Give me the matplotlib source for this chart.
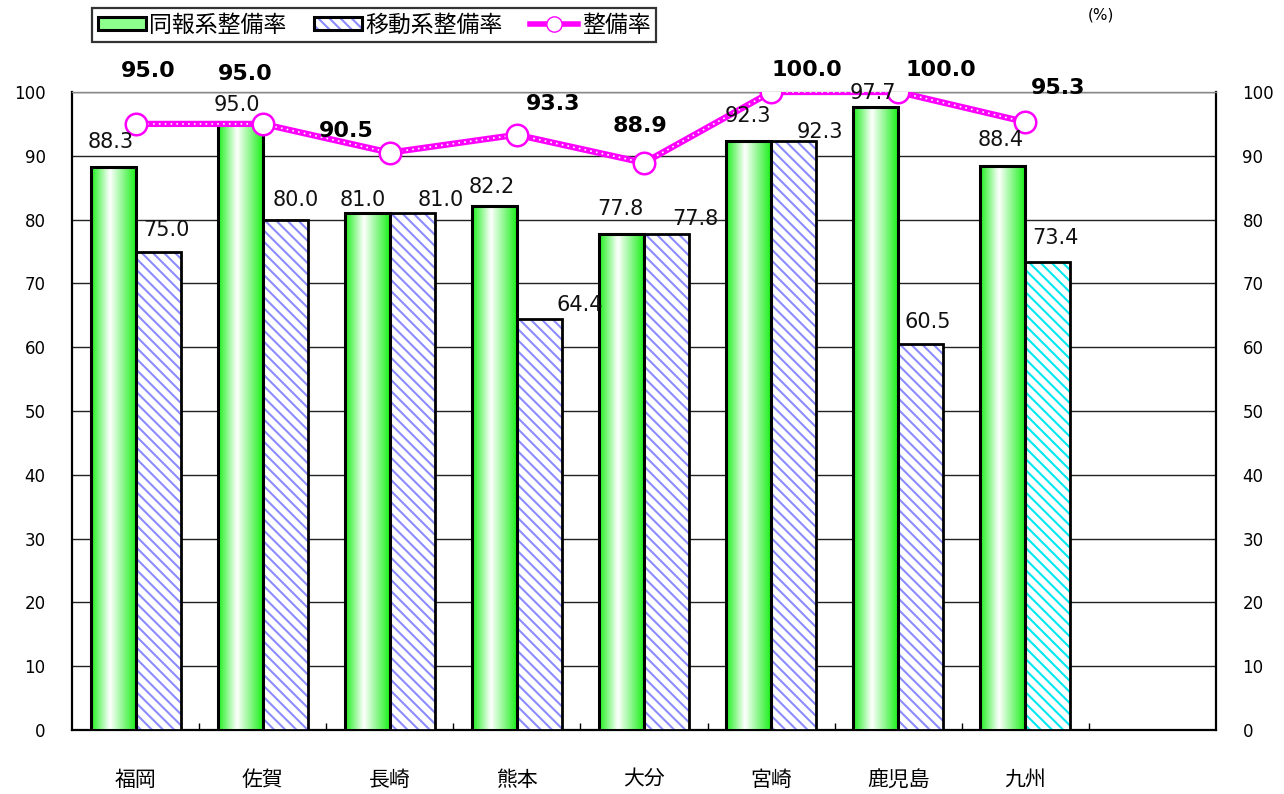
# Import the necessary packages and modules
import numpy as np
import matplotlib
matplotlib.use('Agg')
import matplotlib.pyplot as plt
from matplotlib.colors import LinearSegmentedColormap
from matplotlib.patches import Patch
from matplotlib.lines import Line2D

plt.rcParams['font.family'] = ['DejaVu Sans', 'Noto Sans CJK JP']
plt.rcParams['hatch.linewidth'] = 1.5

# Prepare the data
prefs = ['福岡', '佐賀', '長崎', '熊本', '大分', '宮崎', '鹿児島', '九州']
doho = [88.3, 95.0, 81.0, 82.2, 77.8, 92.3, 97.7, 88.4]     # 同報系整備率
ido = [75.0, 80.0, 81.0, 64.4, 77.8, 92.3, 60.5, 73.4]      # 移動系整備率
seibi = [95.0, 95.0, 90.5, 93.3, 88.9, 100.0, 100.0, 95.3]  # 整備率
yticks = list(range(0, 101, 10))

# label offsets (pixels)
doho_off = [(-2, 25), (-3, 19), (-5, 13), (-3, 19), (-1, 25), (-1, 25), (-3, 14), (-2, 26)]
ido_off = [(8, 21), (11, 20), (28, 13), (40, 14), (29, 15), (26, 9), (7, 22), (8, 24)]
seibi_off = [(13, 53), (-17, 50), (-44, 22), (36, 31), (-4, 37), (36, 22), (43, 22), (33, 34)]

green = '#1ef01e'
blue_hatch = '#8c8cff'
cyan_hatch = '#00e8f0'
magenta = '#ff00ff'

fig = plt.figure(figsize=(12.84, 7.94), dpi=100)
ax = fig.add_axes([72 / 1284, 64 / 794, 1144 / 1284, 638 / 794])

x = np.arange(len(prefs))
w = 0.354

# green gradient bars
cmap = LinearSegmentedColormap.from_list('g', [(0, green), (0.42, 'white'), (1, green)])
grad = np.linspace(0, 1, 64).reshape(1, -1)
bars1 = ax.bar(x - w / 2, doho, w, facecolor='none', edgecolor='black', linewidth=2.2, zorder=4)
for b in bars1:
    ax.imshow(grad, extent=(b.get_x(), b.get_x() + b.get_width(), 0, b.get_height()),
              aspect='auto', cmap=cmap, interpolation='bicubic', zorder=3)

# hatched bars
hcols = [blue_hatch] * (len(prefs) - 1) + [cyan_hatch]
bars2 = ax.bar(x + w / 2, ido, w, facecolor='white', edgecolor=hcols, hatch='\\\\\\',
               linewidth=0, zorder=3)
ax.bar(x + w / 2, ido, w, facecolor='none', edgecolor='black', linewidth=2.0, zorder=4)

# line
ax.plot(x, seibi, color=magenta, lw=4.5, zorder=5)
ax.plot(x, seibi, color='white', lw=1.2, dashes=(1, 2.5), zorder=6)
ax.plot(x, seibi, ls='none', marker='o', ms=15.5, mfc='white', mec=magenta, mew=1.8, zorder=7)

# value labels
for b, v, (dx, dy) in zip(bars1, doho, doho_off):
    ax.annotate(f'{v:.1f}', (b.get_x() + b.get_width() / 2, v), xytext=(dx, dy),
                textcoords='offset pixels', ha='center', va='center', fontsize=15,
                color='#111111', zorder=8)
for b, v, (dx, dy) in zip(bars2, ido, ido_off):
    ax.annotate(f'{v:.1f}', (b.get_x() + b.get_width() / 2, v), xytext=(dx, dy),
                textcoords='offset pixels', ha='center', va='center', fontsize=15,
                color='#111111', zorder=8, annotation_clip=False)
for xi, v, (dx, dy) in zip(x, seibi, seibi_off):
    ax.annotate(f'{v:.1f}', (xi, v), xytext=(dx, dy), textcoords='offset pixels',
                ha='center', va='center', fontsize=16, fontweight='bold', zorder=8,
                annotation_clip=False)

# axes
ax.set_xlim(-0.5, 8.5)
ax.set_ylim(0, 100)
ax.set_yticks(yticks)
ax.set_xticks(x)
ax.set_xticklabels(prefs, fontsize=15, family=['Noto Sans CJK JP'])
ax.set_xticks(x + 0.5, minor=True)
ax.tick_params(axis='x', which='major', length=0, pad=28)
ax.tick_params(axis='x', which='minor', direction='in', length=5, width=1)
ax.tick_params(axis='y', length=0, labelsize=12, pad=19, labelright=True)
ax.grid(axis='y', color='#222222', lw=1.0, zorder=1)
ax.set_axisbelow(True)
for s in ['left', 'right', 'bottom']:
    ax.spines[s].set_linewidth(1.6)
ax.spines['top'].set_color('#888888')
ax.spines['top'].set_linewidth(1.0)

# legend
h_green = Patch(facecolor='#8cff8c', edgecolor='black', linewidth=2.2)
h_blue = (Patch(facecolor='white', edgecolor=blue_hatch, hatch='\\\\\\', linewidth=0),
          Patch(facecolor='none', edgecolor='black', linewidth=2.2))
h_line = Line2D([0], [0], color=magenta, lw=4, marker='o', ms=11, mfc='white', mec=magenta)
leg = fig.legend([h_green, h_blue, h_line], ['同報系整備率', '移動系整備率', '整備率'],
                 loc='upper left', bbox_to_anchor=(92 / 1284, 1 - 8 / 794), ncol=3,
                 frameon=True, fancybox=False, edgecolor='black', borderaxespad=0,
                 borderpad=0.25, handlelength=2.1, handleheight=0.5, handletextpad=0.15,
                 columnspacing=1.2, prop={'family': ['Noto Sans CJK JP'], 'size': 16.5})
leg.get_frame().set_linewidth(1.6)

fig.text(1101 / 1284, 1 - 15 / 794, '(%)', ha='center', va='center', fontsize=11)

fig.savefig('out.png', dpi=100)
